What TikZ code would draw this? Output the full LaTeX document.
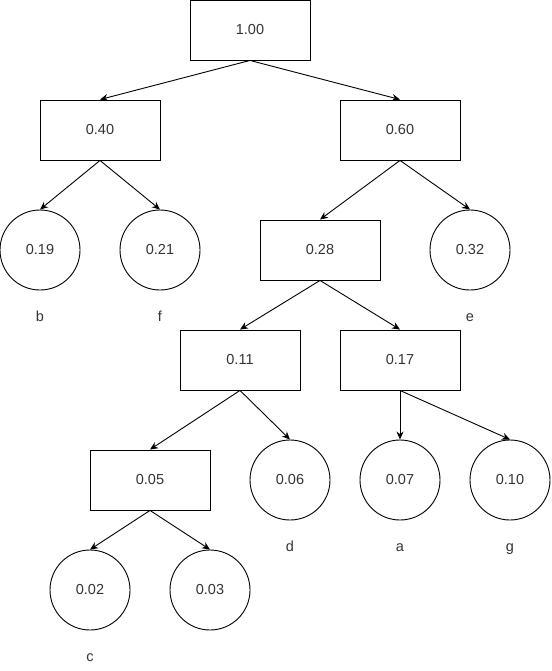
\documentclass[tikz,border=0pt]{standalone}
\usepackage{fontspec}
\setmainfont{Liberation Sans}
\usetikzlibrary{arrows.meta, positioning}

\begin{document}
\begin{tikzpicture}[
    x=1pt, y=-1pt,
    every node/.style={
      font=\fontsize{14.5}{17}\selectfont,
      text=black!80
    },
    box/.style={rectangle, draw, minimum width=120pt, minimum height=60pt},
    leaf/.style={circle, draw, minimum size=80pt, inner sep=0pt},
    sym/.style={inner sep=0pt, text height=11pt, text depth=3pt},
    line width=0.9pt,
    >={Stealth[length=8pt,width=7pt]}
  ]
    \useasboundingbox (0,0) rectangle (551,671);

    % Inner nodes
    \node[box] (n100) at (250,30)  {1.00};
    \node[box] (n040) at (100,130) {0.40};
    \node[box] (n060) at (400,130) {0.60};
    \node[box] (n028) at (320,250) {0.28};
    \node[box] (n011) at (240,360) {0.11};
    \node[box] (n017) at (400,360) {0.17};
    \node[box] (n005) at (150,480) {0.05};

    % Leaves
    \node[leaf] (c019) at (40,250)  {0.19};
    \node[leaf] (c021) at (160,250) {0.21};
    \node[leaf] (c032) at (470,250) {0.32};
    \node[leaf] (c006) at (290,480) {0.06};
    \node[leaf] (c007) at (400,480) {0.07};
    \node[leaf] (c010) at (510,480) {0.10};
    \node[leaf] (c002) at (90,590)  {0.02};
    \node[leaf] (c003) at (210,590) {0.03};

    % Symbols
    \node[sym] (sb) [below=20pt of c019] {b};
    \node[sym] (sf) [below=20pt of c021] {f};
    \node[sym] (se) [below=20pt of c032] {e};
    \node[sym] (sd) [below=20pt of c006] {d};
    \node[sym] (sa) [below=20pt of c007] {a};
    \node[sym] (sg) [below=20pt of c010] {g};
    \node[sym] (sc) [below=20pt of c002] {c};

    % Edges
    \draw[->] (n100.south) -- (n040.north);
    \draw[->] (n100.south) -- (n060.north);

    \draw[->] (n040.south) -- (c019.north);
    \draw[->] (n040.south) -- (c021.north);

    \draw[->] (n060.south) -- (n028.north);
    \draw[->] (n060.south) -- (c032.north);

    \draw[->] (n028.south) -- (n011.north);
    \draw[->] (n028.south) -- (n017.north);

    \draw[->] (n011.south) -- (n005.north);
    \draw[->] (n011.south) -- (c006.north);

    \draw[->] (n017.south) -- (c007.north);
    \draw[->] (n017.south) -- (c010.north);

    \draw[->] (n005.south) -- (c002.north);
    \draw[->] (n005.south) -- (c003.north);

  \end{tikzpicture}
\end{document}
